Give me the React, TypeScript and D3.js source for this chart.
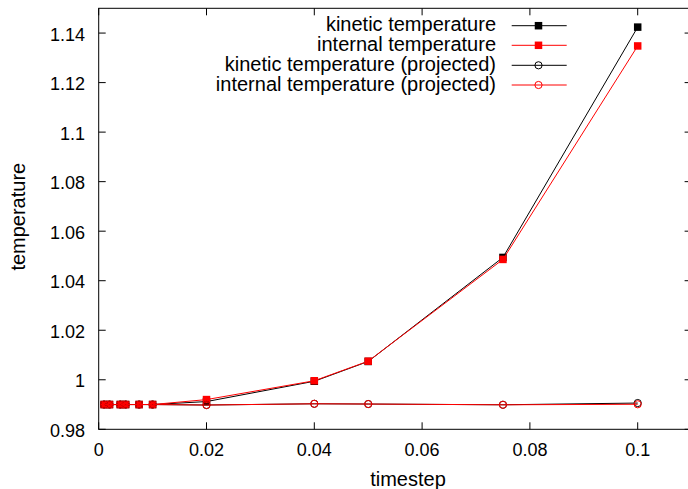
import React from "react";
import * as d3 from "d3";

const timesteps = [0.001, 0.002, 0.004, 0.005, 0.0075, 0.01, 0.02, 0.04, 0.05, 0.075, 0.1];
const kinetic = [0.990, 0.990, 0.990, 0.990, 0.990, 0.990, 0.9912, 0.9994, 1.0074, 1.0494, 1.1424];
const internal = [0.990, 0.990, 0.990, 0.990, 0.990, 0.990, 0.9920, 0.9996, 1.0075, 1.0486, 1.1348];
const kineticProj = [0.990, 0.990, 0.990, 0.990, 0.990, 0.990, 0.9898, 0.9903, 0.9902, 0.9899, 0.9906];
const internalProj = [0.990, 0.990, 0.990, 0.990, 0.990, 0.990, 0.9898, 0.9903, 0.9902, 0.9899, 0.9901];

const xTicks = [0, 0.02, 0.04, 0.06, 0.08, 0.1];
const xTickLabels = ["0", "0.02", "0.04", "0.06", "0.08", "0.1"];
const yTicks = [0.98, 1.0, 1.02, 1.04, 1.06, 1.08, 1.1, 1.12, 1.14];
const yTickLabels = ["0.98", "1", "1.02", "1.04", "1.06", "1.08", "1.1", "1.12", "1.14"];

const seriesNames = [
  "kinetic temperature",
  "internal temperature",
  "kinetic temperature (projected)",
  "internal temperature (projected)",
];
const seriesColors = ["#000000", "#ff0000", "#000000", "#ff0000"];
const seriesMarkers = ["square", "square", "circle", "circle"];
const seriesValues = [kinetic, internal, kineticProj, internalProj];

const W = 688;
const H = 489;
const L = 98.7, R = 691.6, T = 8.3, B = 429.3;
const FONT = "'Liberation Sans', Arial, Helvetica, sans-serif";

function Marker({ type, x, y, color }: { type: string; x: number; y: number; color: string }) {
  if (type === "square") {
    return <rect x={x - 3.75} y={y - 3.75} width={7.5} height={7.5} fill={color} />;
  }
  return <circle cx={x} cy={y} r={3.6} fill="none" stroke={color} strokeWidth={1} />;
}

export default function App() {
  const x = d3.scaleLinear().domain([0, 0.11]).range([L, R]);
  const y = d3.scaleLinear().domain([0.98, 1.15]).range([B, T]);
  const line = d3.line<[number, number]>().x((d) => x(d[0])).y((d) => y(d[1]));

  const legendY = [25.7, 45.3, 65.3, 85];

  return (
    <svg width={W} height={H} style={{ position: "absolute", left: 0, top: 0, background: "#fff" }} fontFamily={FONT}>
      <rect x={0} y={0} width={W} height={H} fill="#fff" />
      {/* ticks */}
      {xTicks.map((t, i) => (
        <g key={"xt" + i}>
          <line x1={x(t)} x2={x(t)} y1={B} y2={B - 7} stroke="#000" strokeWidth={1} />
          <line x1={x(t)} x2={x(t)} y1={T} y2={T + 7} stroke="#000" strokeWidth={1} />
          <text x={x(t)} y={456} textAnchor="middle" fontSize={18} fill="#000">
            {xTickLabels[i]}
          </text>
        </g>
      ))}
      {yTicks.map((t, i) => (
        <g key={"yt" + i}>
          <line x1={L} x2={L + 7} y1={y(t)} y2={y(t)} stroke="#000" strokeWidth={1} />
          <line x1={R} x2={R - 7} y1={y(t)} y2={y(t)} stroke="#000" strokeWidth={1} />
          <text x={85} y={y(t) + 7.5} textAnchor="end" fontSize={18} fill="#000">
            {yTickLabels[i]}
          </text>
        </g>
      ))}
      <rect x={L} y={T} width={R - L} height={B - T} fill="none" stroke="#000" strokeWidth={1} />
      {/* axis labels */}
      <text x={408} y={486} textAnchor="middle" fontSize={20} fill="#000">timestep</text>
      <text transform={`translate(25,216.7) rotate(-90)`} textAnchor="middle" fontSize={20} fill="#000">
        temperature
      </text>
      {/* series */}
      {seriesValues.map((vals, si) => {
        const pts = timesteps.map((t, i) => [t, vals[i]] as [number, number]);
        return (
          <g key={"s" + si}>
            <path d={line(pts) || ""} fill="none" stroke={seriesColors[si]} strokeWidth={1} />
            {pts.map((p, i) => (
              <Marker key={i} type={seriesMarkers[si]} x={x(p[0])} y={y(p[1])} color={seriesColors[si]} />
            ))}
          </g>
        );
      })}
      {/* legend */}
      {seriesNames.map((n, i) => (
        <g key={"l" + i}>
          <text x={496} y={legendY[i] + 5.5} textAnchor="end" fontSize={20} fill="#000">{n}</text>
          <line x1={511.7} x2={566.7} y1={legendY[i]} y2={legendY[i]} stroke={seriesColors[i]} strokeWidth={1} />
          <Marker type={seriesMarkers[i]} x={538.5} y={legendY[i]} color={seriesColors[i]} />
        </g>
      ))}
    </svg>
  );
}
